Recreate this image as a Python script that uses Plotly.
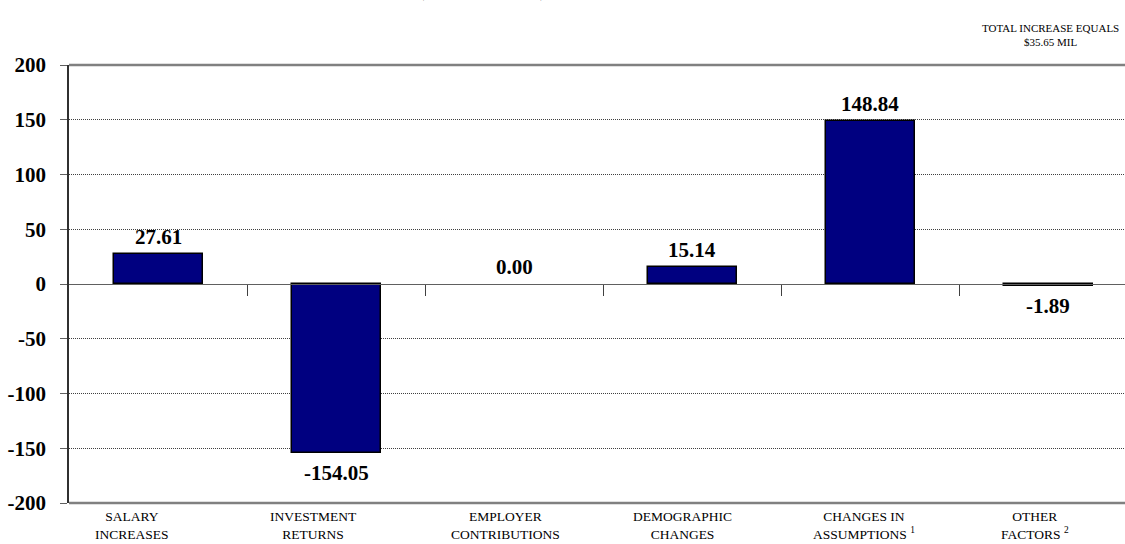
import plotly.graph_objects as go

# Components of the change, $ millions
categories = [
    "SALARY<br>INCREASES",
    "INVESTMENT<br>RETURNS",
    "EMPLOYER<br>CONTRIBUTIONS",
    "DEMOGRAPHIC<br>CHANGES",
    "CHANGES IN<br>ASSUMPTIONS <sup>1</sup>",
    "OTHER<br>FACTORS <sup>2</sup>",
]
values = [27.61, -154.05, 0.00, 15.14, 148.84, -1.89]
y_ticks = [-200, -150, -100, -50, 0, 50, 100, 150, 200]
title_text = "($ IN MILLIONS)"
total_note = "TOTAL INCREASE EQUALS<br>$35.65 MIL"

SERIF = "Liberation Serif, Times New Roman, serif"
W, H = 1125, 544
M_L, M_R, M_T, M_B = 69, 0, 65, 41
CAT_PX = 178  # width of one category slot in pixels
plot_w = W - M_L - M_R
plot_h = H - M_T - M_B
x_pos = list(range(len(categories)))
x_range = [-0.5, -0.5 + plot_w / CAT_PX]

# small horizontal nudges for the category captions (pixels)
label_shift = [-26, -23, -9, -10, -6, -13]

fig = go.Figure()
fig.add_trace(go.Bar(
    x=x_pos,
    y=values,
    width=0.5,
    marker=dict(
        color="#000080",
        line=dict(color="#000000", width=[1.5 if v != 0 else 0 for v in values]),
    ),
    cliponaxis=False,
    hoverinfo="skip",
))

fig.update_layout(
    width=W, height=H,
    margin=dict(l=M_L, r=M_R, t=M_T, b=M_B, pad=0),
    paper_bgcolor="white",
    plot_bgcolor="white",
    showlegend=False,
    font=dict(family=SERIF, color="#000000"),
    bargap=0,
)

fig.update_xaxes(
    range=x_range,
    anchor="free",
    position=0.5,
    showline=True, linecolor="#606060", linewidth=1,
    tickmode="array",
    tickvals=[i + 0.5 for i in x_pos[:-1]],
    showticklabels=False,
    ticks="outside", ticklen=11, tickcolor="#404040", tickwidth=1,
    showgrid=False, zeroline=False,
)

fig.update_yaxes(
    range=[-200, 200],
    tickmode="array",
    tickvals=y_ticks,
    ticktext=[f"<b>{t}</b>" for t in y_ticks],
    tickfont=dict(family=SERIF, size=21, color="#000000", weight="bold"),
    ticks="outside", ticklen=7, tickcolor="#606060", tickwidth=1,
    ticklabelstandoff=10,
    showline=True, linecolor="#303030", linewidth=1.5,
    showgrid=True, gridcolor="#404040", gridwidth=1, griddash="1px,1px",
    zeroline=False,
)

# top and bottom frame lines of the plotting area
for yp in (0, 1):
    fig.add_shape(type="line", xref="paper", yref="paper",
                  x0=0, x1=1, y0=yp, y1=yp,
                  line=dict(color="#808080", width=2.5), layer="above")

# value labels just beyond the end of each bar
for i, v in enumerate(values):
    fig.add_annotation(
        x=i, xref="x", y=v, yref="y",
        xanchor="center", yanchor="middle",
        yshift=17 if v >= 0 else -20,
        text=f"<b>{v:.2f}</b>", showarrow=False,
        font=dict(family=SERIF, size=21, color="#000000"),
    )

# category captions below the plot
for i, (lab, dx) in enumerate(zip(categories, label_shift)):
    fig.add_annotation(
        x=i, xref="x", y=0, yref="paper",
        yanchor="top", xanchor="center", xshift=dx, yshift=-4,
        text=lab, showarrow=False, align="center",
        font=dict(family=SERIF, size=13.5, color="#000000"),
    )

# chart heading (mostly above the visible page)
fig.add_annotation(
    x=(482 - M_L) / plot_w, xref="paper",
    y=1 + (M_T - 3) / plot_h, yref="paper",
    xanchor="center", yanchor="bottom",
    text=f"<b>{title_text}</b>", showarrow=False,
    font=dict(family=SERIF, size=16, color="#000000"),
)

# note at the upper right
fig.add_annotation(
    x=(1050 - M_L) / plot_w, xref="paper",
    y=1 + 15 / plot_h, yref="paper",
    xanchor="center", yanchor="bottom",
    text=total_note, showarrow=False, align="center",
    font=dict(family=SERIF, size=11, color="#000000"),
)

fig.write_html("out.html")
